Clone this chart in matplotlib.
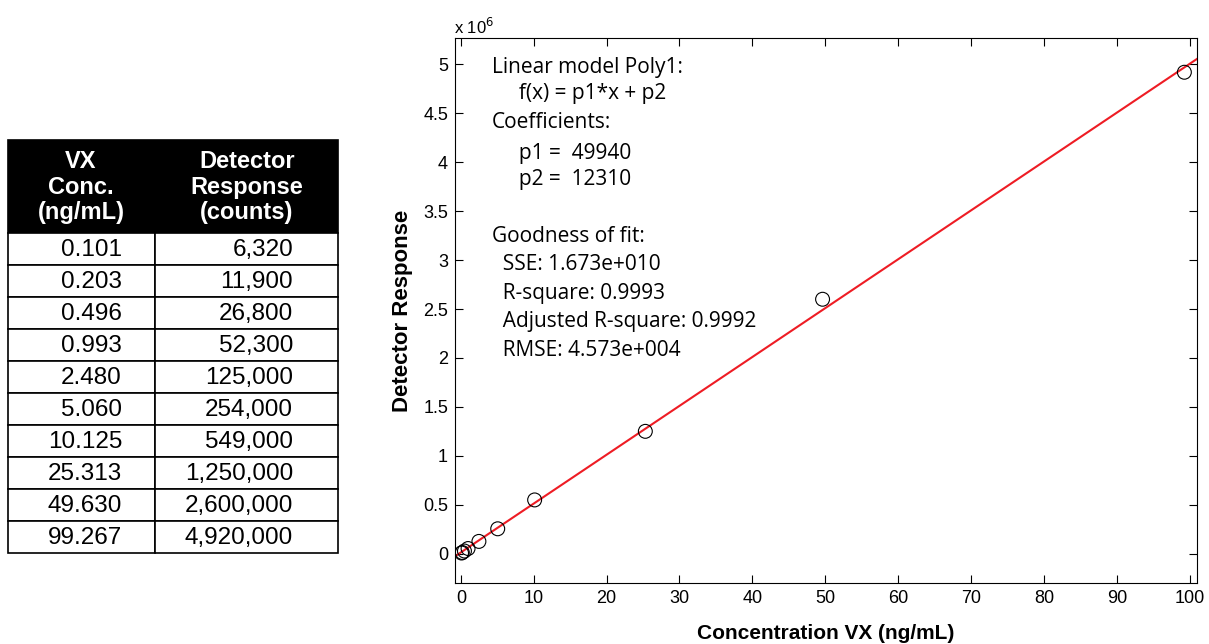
import matplotlib
matplotlib.use("Agg")
import matplotlib.pyplot as plt
import numpy as np
from matplotlib.patches import Rectangle

conc = [0.101, 0.203, 0.496, 0.993, 2.480, 5.060, 10.125, 25.313, 49.630, 99.267]
response = [6320, 11900, 26800, 52300, 125000, 254000, 549000, 1250000, 2600000, 4920000]
conc_labels = ["0.101", "0.203", "0.496", "0.993", "2.480", "5.060", "10.125", "25.313", "49.630", "99.267"]
resp_labels = ["6,320", "11,900", "26,800", "52,300", "125,000", "254,000", "549,000", "1,250,000", "2,600,000", "4,920,000"]
header1 = "VX\nConc.\n(ng/mL)"
header2 = "Detector\nResponse\n(counts)"
p1 = 49940
p2 = 12310
fit_text = ["Linear model Poly1:", "     f(x) = p1*x + p2", "Coefficients:", "     p1 =  49940", "     p2 =  12310", "",
            "Goodness of fit:", "  SSE: 1.673e+010", "  R-square: 0.9993", "  Adjusted R-square: 0.9992", "  RMSE: 4.573e+004"]
xticks = list(range(0, 101, 10))
yticks = [0, 0.5e6, 1e6, 1.5e6, 2e6, 2.5e6, 3e6, 3.5e6, 4e6, 4.5e6, 5e6]
ytick_labels = ["0", "0.5", "1", "1.5", "2", "2.5", "3", "3.5", "4", "4.5", "5"]

W, H = 1209, 644
fig = plt.figure(figsize=(W/100, H/100), dpi=100)

narrow = ["Liberation Sans Narrow", "Liberation Sans", "DejaVu Sans"]
arial = ["Liberation Sans", "DejaVu Sans"]
myriad = ["Open Sans", "DejaVu Sans"]

# ---- Table ----
tx0, tx1, tmid = 8, 338, 155
ty_top, ty_head = 140, 233
row_h = (553 - 233) / len(conc)
axt = fig.add_axes([0, 0, 1, 1])
axt.set_xlim(0, W)
axt.set_ylim(H, 0)
axt.axis("off")
axt.add_patch(Rectangle((tx0, ty_top), tx1 - tx0, ty_head - ty_top, facecolor="black", edgecolor="black", lw=1.2))
axt.text(81, ty_top + 47, header1, color="white", fontsize=17, fontweight="bold", family=arial,
         ha="center", va="center", linespacing=1.15)
axt.text(247, ty_top + 47, header2, color="white", fontsize=17, fontweight="bold", family=arial,
         ha="center", va="center", linespacing=1.15)
for i, (c, r) in enumerate(zip(conc_labels, resp_labels)):
    y0 = ty_head + i * row_h
    axt.add_patch(Rectangle((tx0, y0), tmid - tx0, row_h, facecolor="white", edgecolor="black", lw=1.2))
    axt.add_patch(Rectangle((tmid, y0), tx1 - tmid, row_h, facecolor="white", edgecolor="black", lw=1.2))
    axt.text(122, y0 + row_h / 2 + 1, c, fontsize=17.5, family=arial, ha="right", va="center")
    axt.text(293, y0 + row_h / 2 + 1, r, fontsize=17.5, family=arial, ha="right", va="center")

# ---- Plot ----
L, R, T, B = 455, 1197, 38, 583
ax = fig.add_axes([L / W, 1 - B / H, (R - L) / W, (B - T) / H])
ax.set_xlim(-0.8, 101)
ax.set_ylim(-0.3e6, 5.27e6)
xf = np.array(ax.get_xlim())
ax.plot(xf, p1 * xf + p2, color="#ee1c24", lw=1.5, zorder=2)
ax.scatter(conc, response, s=100, facecolors="none", edgecolors="black", linewidths=0.8, zorder=3)
ax.set_xticks(xticks)
ax.set_xticklabels([str(t) for t in xticks], family=narrow, fontsize=13)
ax.set_yticks(yticks)
ax.set_yticklabels(ytick_labels, family=narrow, fontsize=13)
ax.tick_params(direction="in", length=6, width=0.8, top=True, right=True, pad=5)
for s in ax.spines.values():
    s.set_linewidth(0.8)
ax.set_xlabel("Concentration VX (ng/mL)", fontsize=15, fontweight="bold", family=arial, labelpad=12)
ax.set_ylabel("Detector Response", fontsize=16, fontweight="bold", family=arial, labelpad=7)
fig.text(454 / W, 1 - 27 / H, r"x 10$^{6}$", fontsize=12, family=narrow, ha="left", va="center")

line_y = [67, 94, 122, 153, 180, 210, 237, 264, 293, 322, 351]
for s, yy in zip(fit_text, line_y):
    if s:
        fig.text(492 / W, 1 - yy / H, s, fontsize=15, family=myriad, ha="left", va="center")

fig.savefig("out.png", dpi=100)
